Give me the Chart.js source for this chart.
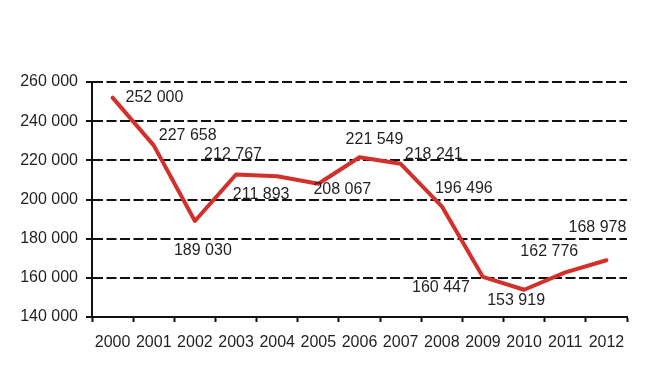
<!DOCTYPE html>
<html>
<head>
<meta charset="utf-8">
<script src="https://cdn.jsdelivr.net/npm/chart.js@4/dist/chart.umd.min.js"></script>
<style>
  html, body { margin: 0; padding: 0; background: #fff; }
  canvas { display: block; }
</style>
</head>
<body>
<canvas id="c" width="650" height="388"></canvas>
<script>
// ---- Data ----
const years = ['2000','2001','2002','2003','2004','2005','2006','2007','2008','2009','2010','2011','2012'];
const values = [252000, 227658, 189030, 212767, 211893, 208067, 221549, 218241, 196496, 160447, 153919, 162776, 168978];
const yTicks = [140000, 160000, 180000, 200000, 220000, 240000, 260000];

// label offsets (dx, dy) from each point, in pixels
const labelDx = [13, 34, 8, -3, -16, 24, 15, 33, 22, -42, -8, -16, -9];
const labelDy = [0, -10, 30, -20, 18, 6, -18, -9, -18, 11, 11, -21, -33];
const labelAlign = ['left','center','center','center','center','center','center','center','center','center','center','center','center'];

const fmt = v => String(v).replace(/\B(?=(\d{3})+(?!\d))/g, ' ');
const FONT = 'Liberation Sans';
const TXT = '#231f20';

const labelPlugin = {
  id: 'pointLabels',
  afterDatasetsDraw(chart) {
    const ctx = chart.ctx;
    const meta = chart.getDatasetMeta(0);
    ctx.save();
    ctx.font = '16px "' + FONT + '"';
    ctx.fillStyle = TXT;
    ctx.textBaseline = 'middle';
    meta.data.forEach((pt, i) => {
      ctx.textAlign = labelAlign[i];
      ctx.fillText(fmt(values[i]), pt.x + labelDx[i], pt.y + labelDy[i]);
    });
    ctx.restore();
  }
};

new Chart(document.getElementById('c'), {
  type: 'line',
  data: {
    labels: years,
    datasets: [{
      data: values,
      borderColor: '#d3302b',
      borderWidth: 4,
      pointRadius: 0,
      tension: 0,
      borderJoinStyle: 'round',
      borderCapStyle: 'round',
      fill: false
    }]
  },
  options: {
    responsive: false,
    animation: false,
    events: [],
    layout: { padding: { top: 82, right: 23, left: 0, bottom: 0 } },
    plugins: { legend: { display: false }, tooltip: { enabled: false } },
    scales: {
      x: {
        type: 'category',
        offset: true,
        grid: {
          offset: true,
          drawOnChartArea: false,
          drawTicks: true,
          tickLength: 5,
          tickColor: '#111',
          tickWidth: 2
        },
        border: { display: true, color: '#111', width: 2 },
        ticks: {
          color: TXT,
          font: { family: FONT, size: 16 },
          padding: 11,
          maxRotation: 0,
          autoSkip: false
        },
        afterFit(scale) { scale.height = 71; }
      },
      y: {
        min: 140000,
        max: 260000,
        afterBuildTicks(scale) { scale.ticks = yTicks.map(v => ({ value: v })); },
        grid: {
          color: '#111',
          lineWidth: 2,
          drawTicks: true,
          tickLength: 6,
          tickColor: '#111',
          tickWidth: 2
        },
        border: { display: true, color: '#111', width: 2, dash: [10, 3.5] },
        ticks: {
          color: TXT,
          font: { family: FONT, size: 16 },
          padding: 8,
          callback: v => fmt(v)
        },
        afterFit(scale) { scale.width = 92; }
      }
    }
  },
  plugins: [labelPlugin]
});
</script>
</body>
</html>
